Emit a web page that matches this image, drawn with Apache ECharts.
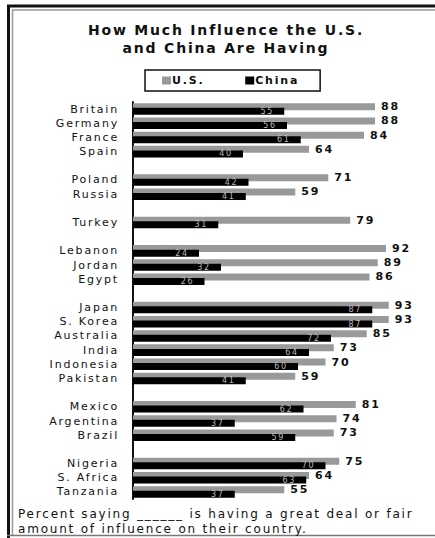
<!DOCTYPE html>
<html>
<head>
<meta charset="utf-8">
<script src="https://cdn.jsdelivr.net/npm/echarts@6/dist/echarts.min.js"></script>
<style>
html,body{margin:0;padding:0;background:#fff;}
#chart{width:435px;height:538px;}
#chart text{letter-spacing:1.8px;}
</style>
</head>
<body>
<div id="chart"></div>
<script>
const titleLines = ['How Much Influence the U.S.', 'and China Are Having'];
const seriesNames = ['U.S.', 'China'];
const countries = ['Britain','Germany','France','Spain','Poland','Russia','Turkey','Lebanon','Jordan','Egypt','Japan','S. Korea','Australia','India','Indonesia','Pakistan','Mexico','Argentina','Brazil','Nigeria','S. Africa','Tanzania'];
const groupSizes = [4, 2, 1, 3, 6, 3, 3];
const usValues =    [88, 88, 84, 64, 71, 59, 79, 92, 89, 86, 93, 93, 85, 73, 70, 59, 81, 74, 73, 75, 64, 55];
const chinaValues = [55, 56, 61, 40, 42, 41, 31, 24, 32, 26, 87, 87, 72, 64, 60, 41, 62, 37, 59, 70, 63, 37];
const footnote = ['Percent saying ______ is having a great deal or fair', 'amount of influence on their country.'];

// build category rows with blank spacer rows between groups
const cats = [], usData = [], cnData = [];
let idx = 0;
groupSizes.forEach((n, g) => {
  if (g > 0) { cats.push(''); usData.push('-'); cnData.push('-'); }
  for (let i = 0; i < n; i++, idx++) {
    cats.push(countries[idx]);
    usData.push(usValues[idx]);
    cnData.push(chinaValues[idx]);
  }
});

const FONT = 'DejaVu Sans';
const chart = echarts.init(document.getElementById('chart'), null, {renderer: 'svg'});
chart.setOption({
  animation: false,
  backgroundColor: '#fff',
  textStyle: {fontFamily: FONT},
  graphic: [
    // frame
    {type: 'line', shape: {x1: 7, y1: 6, x2: 435, y2: 6}, style: {stroke: '#111', lineWidth: 3}},
    {type: 'line', shape: {x1: 8.5, y1: 5, x2: 8.5, y2: 538}, style: {stroke: '#111', lineWidth: 3}},
    {type: 'line', shape: {x1: 12.5, y1: 10, x2: 12.5, y2: 535}, style: {stroke: '#999', lineWidth: 1.5}},
    {type: 'line', shape: {x1: 12, y1: 10, x2: 435, y2: 10}, style: {stroke: '#999', lineWidth: 1.5}},
    {type: 'line', shape: {x1: 7, y1: 535.5, x2: 435, y2: 535.5}, style: {stroke: '#777', lineWidth: 1.5}},
    // title
    {type: 'text', x: 226, y: 30, style: {text: titleLines[0], font: 'bold 14px "DejaVu Sans"', fill: '#111', align: 'center', verticalAlign: 'middle'}},
    {type: 'text', x: 226, y: 48, style: {text: titleLines[1], font: 'bold 14px "DejaVu Sans"', fill: '#111', align: 'center', verticalAlign: 'middle'}},
    // footnote
    {type: 'text', x: 18, y: 514, style: {text: footnote[0], font: '12px "DejaVu Sans"', fill: '#111', verticalAlign: 'middle'}},
    {type: 'text', x: 18, y: 529, style: {text: footnote[1], font: '12px "DejaVu Sans"', fill: '#111', verticalAlign: 'middle'}}
  ],
  legend: {
    top: 70, left: 145,
    data: seriesNames,
    itemWidth: 9, itemHeight: 8, itemGap: 48,
    borderColor: '#111', borderWidth: 1.5, borderRadius: 0,
    padding: [5, 30, 5, 17],
    textStyle: {fontFamily: FONT, fontWeight: 'bold', fontSize: 11, color: '#111', padding: [0, 0, 0, -4]},
    icon: 'rect'
  },
  grid: {left: 133, right: 27, top: 102, bottom: 39, containLabel: false},
  xAxis: {type: 'value', min: 0, max: 100, show: false},
  yAxis: {
    type: 'category', data: cats, inverse: true,
    axisLine: {show: true, lineStyle: {color: '#111', width: 2}},
    axisTick: {show: false},
    axisLabel: {interval: 0, fontFamily: FONT, fontSize: 11, color: '#111', margin: 14}
  },
  series: [
    {
      name: seriesNames[0], type: 'bar', data: usData, barWidth: 7, barGap: '-35%',
      itemStyle: {color: '#999'},
      label: {show: true, position: 'right', distance: 6, fontFamily: FONT, fontWeight: 'bold', fontSize: 11, color: '#111'}
    },
    {
      name: seriesNames[1], type: 'bar', data: cnData, barWidth: 7, z: 3,
      itemStyle: {color: '#000'},
      label: {show: true, position: 'insideRight', distance: 10, fontFamily: FONT, fontSize: 8, color: '#bbb'}
    }
  ]
});
</script>
</body>
</html>
